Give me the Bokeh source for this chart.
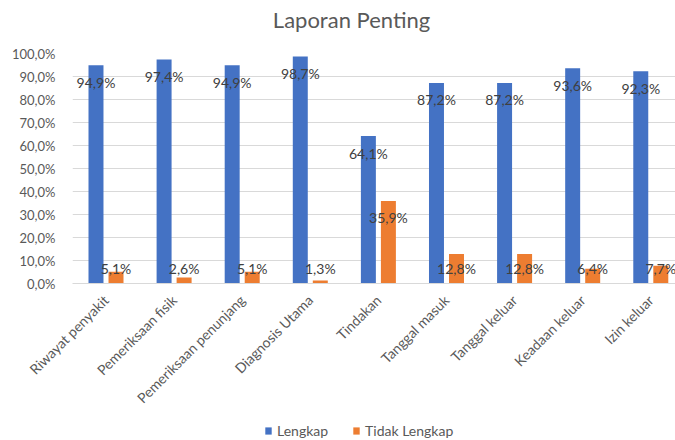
import numpy as np
from bokeh.plotting import figure
from bokeh.layouts import column
from bokeh.models import (Range1d, FixedTicker, CustomJSTickFormatter, Legend, LegendItem,
                          ColumnDataSource, Label)
from bokeh.core.properties import value
from bokeh.embed import file_html
from bokeh.resources import INLINE

title_text = "Laporan Penting"
categories = ["Riwayat penyakit", "Pemeriksaan fisik", "Pemeriksaan penunjang",
              "Diagnosis Utama", "Tindakan", "Tanggal masuk", "Tanggal keluar",
              "Keadaan keluar", "Izin keluar"]
lengkap = [94.9, 97.4, 94.9, 98.7, 64.1, 87.2, 87.2, 93.6, 92.3]
tidak_lengkap = [5.1, 2.6, 5.1, 1.3, 35.9, 12.8, 12.8, 6.4, 7.7]
y_ticks = [0, 10, 20, 30, 40, 50, 60, 70, 80, 90, 100]
series_names = ["Lengkap", "Tidak Lengkap"]

FONT = "Lato"
GRAY = "#595959"
BLUE = "#4472C4"
ORANGE = "#ED7D31"

x = np.arange(len(categories))
off = 0.147
bw = 0.22

def fmt(v):
    return ("%.1f" % v).replace(".", ",") + "%"

def label_y(vals):
    return [max(v - 7.4, 6.6) for v in vals]

src_l = ColumnDataSource(dict(x=x - off, top=lengkap, ly=label_y(lengkap),
                              txt=[fmt(v) for v in lengkap]))
src_t = ColumnDataSource(dict(x=x + off, top=tidak_lengkap, ly=label_y(tidak_lengkap),
                              txt=[fmt(v) for v in tidak_lengkap]))

# ---- title strip ----
ts = figure(width=675, height=43, output_backend="svg", toolbar_location=None, title=None,
            x_axis_location=None, y_axis_location=None,
            x_range=Range1d(72, 675), y_range=Range1d(0, 43),
            min_border_left=72, min_border_right=0, min_border_top=0, min_border_bottom=0)
ts.grid.visible = False
ts.outline_line_color = None
ts.add_layout(Label(x=351, y=24, text=title_text, text_align="center",
                    text_baseline="alphabetic", text_font=FONT, text_font_size="22px",
                    text_color=GRAY))

# ---- main chart ----
p = figure(frame_width=603, frame_height=230, output_backend="svg", toolbar_location=None,
           title=None, x_range=Range1d(-0.492, 8.363), y_range=Range1d(0, 100),
           min_border_left=72, min_border_right=0, min_border_top=10, min_border_bottom=137)
p.outline_line_color = None
p.background_fill_color = "white"
p.border_fill_color = "white"

p.vbar(x="x", top="top", width=bw, source=src_l, fill_color=BLUE, line_color=None)
p.vbar(x="x", top="top", width=bw, source=src_t, fill_color=ORANGE, line_color=None)

for s in (src_l, src_t):
    p.text(x="x", y="ly", text="txt", source=s, text_align="center",
           text_baseline="middle", text_font=value(FONT), text_font_size="14px",
           text_color="#404040")

p.yaxis.ticker = FixedTicker(ticks=y_ticks)
p.yaxis.formatter = CustomJSTickFormatter(code="return tick.toFixed(1).replace('.', ',') + '%';")
p.yaxis.axis_line_color = None
p.yaxis.major_tick_line_color = None
p.yaxis.minor_tick_line_color = None
p.yaxis.major_label_text_font = FONT
p.yaxis.major_label_text_font_size = "13px"
p.yaxis.major_label_text_color = GRAY
p.yaxis.major_label_standoff = 11

p.xaxis.ticker = FixedTicker(ticks=list(x))
p.xaxis.major_label_overrides = {int(i): c for i, c in zip(x, categories)}
p.xaxis.major_label_orientation = np.pi / 4
p.xaxis.axis_line_color = "#D9D9D9"
p.xaxis.major_tick_line_color = None
p.xaxis.minor_tick_line_color = None
p.xaxis.major_label_text_font = FONT
p.xaxis.major_label_text_font_size = "14px"
p.xaxis.major_label_text_color = GRAY
p.xaxis.major_label_standoff = 8

p.xgrid.grid_line_color = None
p.ygrid.grid_line_color = "#D9D9D9"

# ---- legend strip (series drawn far outside its visible range, only the legend shows) ----
lg = figure(width=675, height=20, output_backend="svg", toolbar_location=None, title=None,
            x_axis_location=None, y_axis_location=None,
            x_range=Range1d(-0.492, 8.363), y_range=Range1d(1000, 1001),
            min_border_left=72, min_border_right=0, min_border_top=0, min_border_bottom=0)
lg.grid.visible = False
lg.outline_line_color = None
r1 = lg.vbar(x=x - off, top=lengkap, width=bw, fill_color=BLUE, line_color=None)
r2 = lg.vbar(x=x + off, top=tidak_lengkap, width=bw, fill_color=ORANGE, line_color=None)
legend = Legend(items=[LegendItem(label=series_names[0], renderers=[r1]),
                       LegendItem(label=series_names[1], renderers=[r2])],
                orientation="horizontal", location=(192, 1),
                padding=0, margin=0, spacing=24, label_standoff=5,
                glyph_width=8, glyph_height=9, label_height=12,
                label_text_font=FONT, label_text_font_size="14px",
                label_text_color=GRAY, border_line_color=None,
                background_fill_alpha=0)
lg.add_layout(legend, "center")

open("out.html", "w").write(file_html(column(ts, p, lg), INLINE))
